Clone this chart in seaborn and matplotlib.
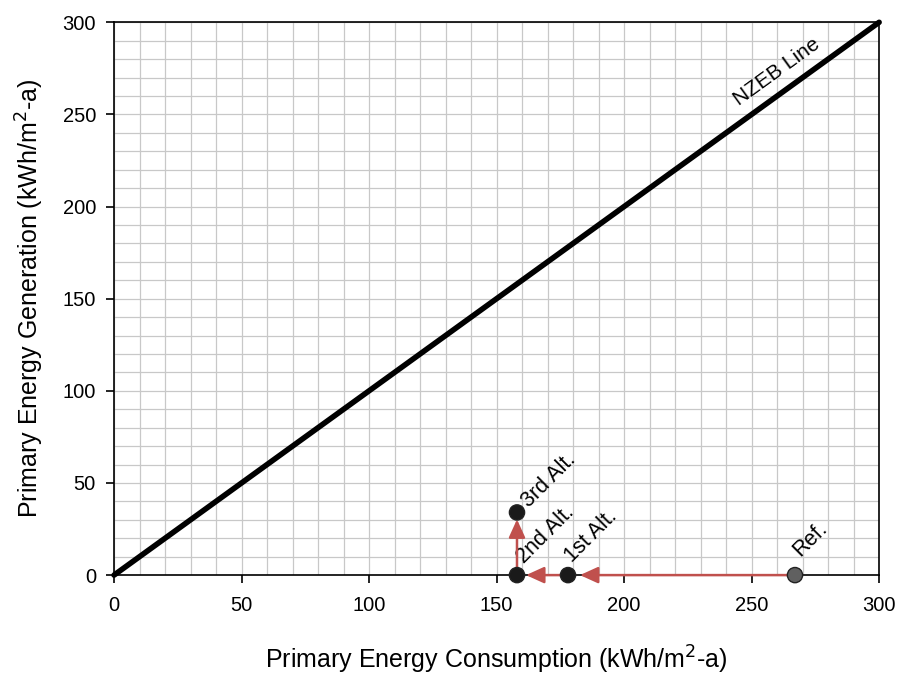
import matplotlib
matplotlib.use("Agg")
import matplotlib.pyplot as plt
import seaborn as sns
import pandas as pd
import numpy as np

# Reference line: generation equals consumption
nzeb_x = [0, 300]
nzeb_y = [0, 300]

# Design alternatives (consumption, generation)
cases = ["Ref.", "1st Alt.", "2nd Alt.", "3rd Alt."]
consumption = [267, 178, 158, 158]
generation = [0, 0, 0, 34]

sns.set_style("white")
plt.rcParams["font.family"] = ["Liberation Sans", "DejaVu Sans"]
plt.rcParams["text.color"] = "black"
plt.rcParams["axes.labelcolor"] = "black"
plt.rcParams["xtick.color"] = "black"
plt.rcParams["ytick.color"] = "black"

fig = plt.figure(figsize=(8.98, 6.75), dpi=100)
ax = fig.add_axes([0.127, 0.148, 0.852, 0.819])

ax.set_xlim(0, 300)
ax.set_ylim(0, 300)

# minor grid every 10 units
ax.set_xticks(np.arange(0, 301, 50))
ax.set_yticks(np.arange(0, 301, 50))
ax.set_xticks(np.arange(0, 301, 10), minor=True)
ax.set_yticks(np.arange(0, 301, 10), minor=True)
ax.grid(which="both", color="#c8c8c8", linewidth=0.9)
ax.set_axisbelow(True)
ax.tick_params(which="minor", length=0)
ax.tick_params(which="major", direction="out", length=6, width=1.2,
               labelsize=14.5, bottom=True, left=True)
ax.tick_params(axis="x", pad=9)
ax.tick_params(axis="y", pad=7)
for s in ax.spines.values():
    s.set_color("black")
    s.set_linewidth(1.2)

line_df = pd.DataFrame({"x": nzeb_x, "y": nzeb_y})
sns.lineplot(data=line_df, x="x", y="y", color="black", linewidth=4,
             ax=ax, clip_on=False, zorder=3)

ax.text(260, 273, "NZEB Line", rotation=35.9, ha="center", va="center",
        fontsize=15, rotation_mode="anchor")

# arrows between successive alternatives
red = "#c0504d"
shrink_end = [8.6, 6.5, 5.0]
for i in range(len(cases) - 1):
    ax.annotate("", xy=(consumption[i + 1], generation[i + 1]),
                xytext=(consumption[i], generation[i]),
                arrowprops=dict(arrowstyle="-|>,head_length=1.1,head_width=0.5",
                                color=red, lw=1.8, shrinkA=0,
                                shrinkB=shrink_end[i]),
                zorder=4)

pts = pd.DataFrame({"x": consumption, "y": generation, "case": cases})
face = ["#606060", "#1a1a1a", "#1a1a1a", "#1a1a1a"]
sns.scatterplot(data=pts, x="x", y="y", hue="case", palette=face,
                s=120, edgecolor="#222222", linewidth=1, legend=False,
                ax=ax, clip_on=False, zorder=5)

offsets = [(4, 13), (3, 9), (5, 8), (8.5, 3.5)]
for c, x, y, off in zip(cases, consumption, generation, offsets):
    ax.annotate(c, (x, y), xytext=off, textcoords="offset points",
                rotation=45, fontsize=15.5, ha="left", va="baseline",
                rotation_mode="anchor")

ax.set_xlabel("Primary Energy Consumption (kWh/m$^2$-a)", fontsize=18,
              labelpad=21)
ax.set_ylabel("Primary Energy Generation (kWh/m$^2$-a)", fontsize=18,
              labelpad=12)

fig.savefig("out.png", dpi=100)
